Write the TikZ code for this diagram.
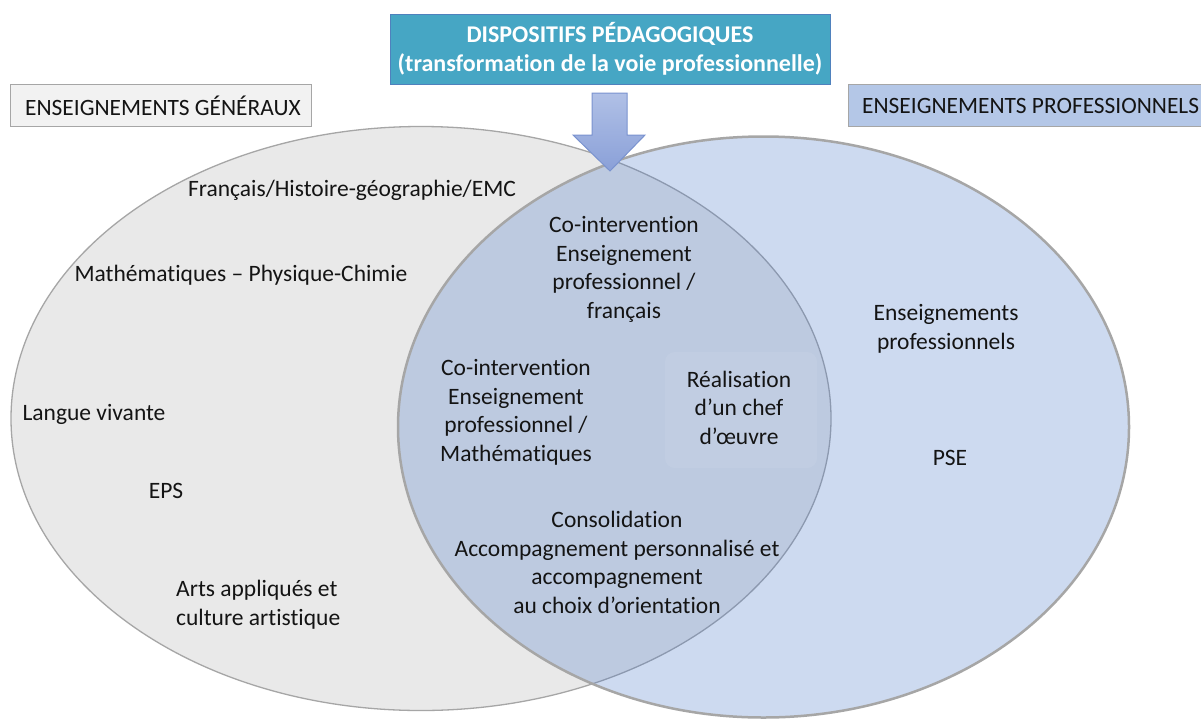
\documentclass[tikz,border=0pt]{standalone}
\usepackage{fontspec}
\setmainfont{Carlito}[Ligatures=NoCommon]
\usetikzlibrary{shapes.geometric}
\definecolor{genfill}{RGB}{233,233,233}
\definecolor{profill}{RGB}{73,120,202}
\definecolor{rim}{RGB}{166,166,166}
\definecolor{topfill}{RGB}{70,166,196}
\definecolor{topdraw}{RGB}{79,129,189}
\definecolor{labgen}{RGB}{242,242,242}
\definecolor{labpro}{RGB}{180,199,231}
\definecolor{arrtop}{RGB}{176,192,230}
\definecolor{arrbot}{RGB}{138,160,216}
\definecolor{arrdraw}{RGB}{122,147,207}
\definecolor{ink}{RGB}{20,20,20}
\begin{document}
\begin{tikzpicture}[x=1pt,y=-1pt,
  txt/.style={font=\fontsize{23.5}{28.5}\selectfont, text=ink, align=center, inner sep=0pt},
  labbox/.style={draw=rim, line width=1.2pt, inner sep=0pt, anchor=north west},
  labtxt/.style={font=\fontsize{23.4}{26}\selectfont, text=ink, inner sep=0pt, anchor=west}]
\clip (0,0) rectangle (1201,718);
\fill[white] (0,0) rectangle (1201,718);
% ellipses
\node[ellipse, draw=rim, line width=1.3pt, fill=genfill, minimum width=820pt, minimum height=584pt, inner sep=0pt] (gen) at (421,418.5) {};
\node[ellipse, draw=rim, line width=2.5pt, fill=profill, fill opacity=0.27, draw opacity=1, minimum width=731pt, minimum height=581pt, inner sep=0pt] (pro) at (763.5,427) {};
% chef d'oeuvre faint box
\node[rounded corners=10pt, fill=white, fill opacity=0.07, minimum width=152pt, minimum height=116pt, inner sep=0pt] (chefbox) at (741,410) {};
% texts in general ellipse
\node[txt] (fr) at (352,190) {Français/Histoire-géographie/EMC};
\node[txt] (math) at (241,275) {Mathématiques – Physique-Chimie};
\node[txt] (lv) at (94,414) {Langue vivante};
\node[txt] (eps) at (166,491) {EPS};
\node[txt, align=left, anchor=west] (arts) at (176,604.5) {Arts appliqués et\\culture artistique};
% overlap
\node[txt] (cofr) at (624,269.5) {Co-intervention\\Enseignement\\professionnel /\\français};
\node[txt] (comath) at (516,412.5) {Co-intervention\\Enseignement\\professionnel /\\Mathématiques};
\node[txt] (chef) at (739,407.5) {Réalisation\\d’un chef\\d’œuvre};
\node[txt] (conso) at (617,562.5) {Consolidation\\Accompagnement personnalisé et\\accompagnement\\au choix d’orientation};
% professional ellipse
\node[txt] (ensp) at (946,329) {Enseignements\\professionnels};
\node[txt] (pse) at (950,458) {PSE};
% label boxes
\node[labbox, fill=labgen, minimum width=301pt, minimum height=42pt] (lgen) at (10,84) {};
\node[labtxt] (lgent) at ([xshift=15pt]lgen.west) {ENSEIGNEMENTS GÉNÉRAUX};
\node[labbox, fill=labpro, minimum width=360pt, minimum height=42pt] (lpro) at (848,84) {};
\node[labtxt] (lprot) at ([xshift=14pt]lpro.west) {ENSEIGNEMENTS PROFESSIONNELS};
% top box
\node[draw=topdraw, line width=1pt, fill=topfill, minimum width=440pt, minimum height=70pt, inner sep=0pt, text=white, font=\bfseries\fontsize{24}{28.5}\selectfont, align=center] (dispo) at (610,49) {DISPOSITIFS PÉDAGOGIQUES\\(transformation de la voie professionnelle)};
% block arrow
\coordinate (tip) at (610,171);
\draw[arrdraw, line width=1pt, top color=arrtop, bottom color=arrbot, line join=miter]
  (592,93) -- (627,93) -- (627,135) -- (645,135) -- (tip) -- (573,135) -- (592,135) -- cycle;
\end{tikzpicture}
\end{document}
